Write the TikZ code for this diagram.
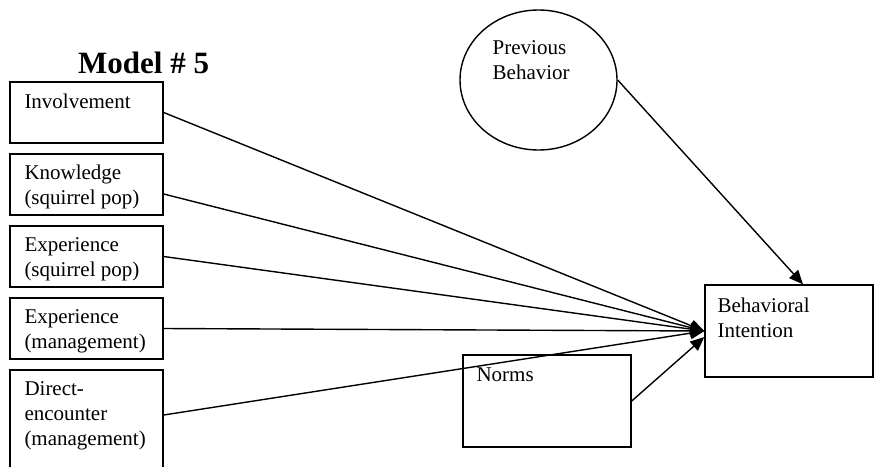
\documentclass[tikz,border=0pt]{standalone}
\usepackage{fontspec}
\setmainfont{Liberation Serif}
\usetikzlibrary{arrows.meta,shapes.geometric}

\tikzset{
  box/.style={draw, line width=1.4pt, minimum width=153pt, minimum height=61pt, inner sep=0pt},
  bigbox/.style={box, minimum width=168pt, minimum height=92pt},
  txt/.style={anchor=north west, align=left, inner sep=0pt, font=\fontsize{21}{25}\selectfont},
  link/.style={line width=1.4pt, -{Triangle[length=14pt,width=12pt]}},
}

\begin{document}
\begin{tikzpicture}[x=1pt, y=-1pt]

\useasboundingbox (0,0) rectangle (877,466);
\clip (0,0) rectangle (877,466);

% title
\node[anchor=base west, inner sep=0pt, font=\fontsize{31}{35}\selectfont\bfseries] (title) at (78,73) {Model \# 5};

% predictors on the left
\node[box, label={[txt, xshift=15pt, yshift=-12.5pt]north west:Involvement}] (inv) at (86.5,112.5) {};
\node[box, label={[txt, xshift=15pt, yshift=-11.7pt]north west:Knowledge\\(squirrel pop)}] (know) at (86.5,184.5) {};
\node[box, label={[txt, xshift=15pt, yshift=-11.7pt]north west:Experience\\(squirrel pop)}] (expsq) at (86.5,256.5) {};
\node[box, label={[txt, xshift=15pt, yshift=-11.7pt]north west:Experience\\(management)}] (expmg) at (86.5,328.5) {};
\node[box, minimum height=100pt, label={[txt, xshift=15pt, yshift=-11.7pt]north west:Direct-\\encounter\\(management)}] (direct) at (86.5,420) {};

% previous behavior, norms, intention
\node[draw, ellipse, line width=1.4pt, minimum width=157pt, minimum height=140pt, inner sep=0pt,
  label={[txt, xshift=10pt, yshift=-10.2pt]north west:Previous\\Behavior}] (prev) at (538.5,80) {};
\node[bigbox, label={[txt, xshift=14pt, yshift=-13.7pt]north west:Norms}] (norms) at (547,401) {};
\node[bigbox, label={[txt, xshift=13pt, yshift=-13.7pt]north west:Behavioral\\Intention}] (bi) at (789,331) {};

% paths into the intention
\draw[link] (inv.east) -- (bi.west);
\draw[link] ([yshift=-9.5pt]know.east) -- (bi.west);
\draw[link] (expsq.east) -- (bi.west);
\draw[link] (expmg.east) -- (bi.west);
\draw[link] ([yshift=5pt]direct.east) -- (bi.west);
\draw[link] (norms.east) -- ([yshift=-6pt]bi.west);
\draw[link] (prev.east) -- ([xshift=14pt]bi.north);

\end{tikzpicture}
\end{document}
